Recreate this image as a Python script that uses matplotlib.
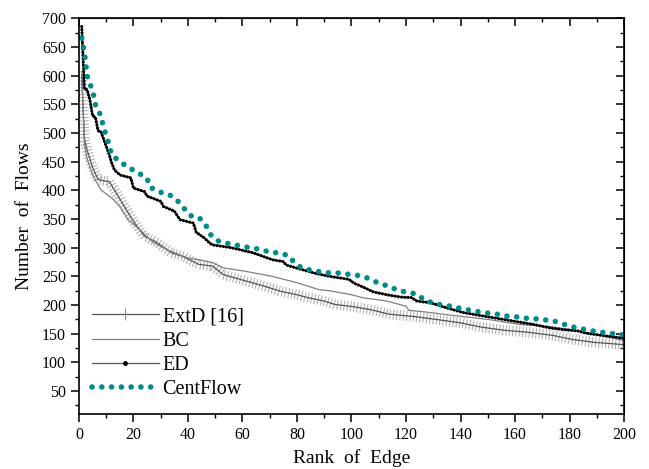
import matplotlib
matplotlib.use("Agg")
import matplotlib.pyplot as plt
import matplotlib.patheffects as pe
from matplotlib.lines import Line2D
from matplotlib.ticker import MultipleLocator

plt.rcParams['font.family'] = ['Liberation Serif', 'DejaVu Serif']

# ExtD [16]
extd_rank = [1, 2, 3, 5, 7, 10, 11, 13, 17, 20, 24, 28, 34, 38, 44, 49, 53, 59, 68, 74,
             80, 84, 90, 94, 101, 107, 114, 123, 131, 140, 147, 156, 164, 174, 181, 189, 200]
extd_flows = [600, 490, 470, 440, 419, 416, 416, 401, 369, 346, 320, 311, 291, 285, 271, 268, 253, 245, 233, 224,
              218, 213, 207, 201, 197, 192, 184, 180, 175, 169, 162, 156, 153, 147, 140, 135, 131]

# BC
bc_rank = [1, 2, 3, 5, 8, 12, 15, 18, 22, 27, 33, 40, 44, 49, 53, 61, 71, 80, 88, 92,
           100, 104, 113, 120, 121, 129, 137, 150, 162, 172, 181, 190, 200]
bc_flows = [608, 478, 455, 427, 401, 387, 372, 349, 333, 310, 295, 282, 279, 274, 265, 259, 250, 239, 227, 225,
            218, 213, 207, 198, 191, 187, 182, 175, 166, 163, 157, 149, 138]

# ED
ed_rank = [1, 2, 3, 4, 5, 6, 7, 8, 10, 11, 12, 13, 15, 19, 20, 24, 25, 30, 31, 35, 37, 42, 43, 46, 48, 49,
           56, 64, 71, 75, 76, 81, 87, 92, 99, 101, 104, 108, 113, 118, 122, 124, 129, 135, 141, 147,
           152, 157, 162, 167, 173, 178, 183, 186, 192, 200]
ed_flows = [686, 577, 576, 558, 530, 528, 504, 503, 477, 464, 448, 436, 427, 422, 404, 398, 390, 381, 372, 364, 349, 343, 327, 317, 308, 305,
            300, 291, 279, 276, 270, 263, 255, 250, 245, 238, 232, 223, 218, 214, 213, 207, 204, 195, 187, 182,
            178, 174, 170, 166, 160, 157, 155, 151, 147, 142]

# CentFlow
cf_rank = [1, 2, 3, 4, 5, 6, 7, 8, 9, 10, 11, 12, 13, 16, 19, 22, 25, 26, 29, 33, 36, 38.5, 41, 44, 46.5, 48,
           51, 54, 57, 60.5, 64, 67, 70, 73.5, 77, 79, 82, 85, 88.5, 92, 95, 98.5, 102, 105, 108, 111, 114,
           117.5, 121, 124, 127, 130.5, 134, 137, 140, 143.5, 147, 150, 153.5, 156.5, 160, 163, 166.5, 170,
           173, 176.5, 180, 183, 186, 189.5, 193, 196, 200]
cf_flows = [666, 640, 600, 586, 575, 550, 538, 532, 510, 496, 480, 462, 458, 447, 438, 430, 421, 406, 398, 393, 383, 369, 356, 353, 340, 324,
            312, 308, 305, 302, 299, 297, 292, 291, 286, 274, 264, 261, 258, 256, 256, 254, 252, 249, 242, 237, 232,
            225, 222, 219, 208, 203, 199, 198, 194, 191, 188, 186, 184, 181, 180, 177, 177, 174,
            174, 169, 163, 160, 157, 154, 152, 150, 148]

TEAL = '#008b8b'
cf_style = (0, (0.01, 1.75))

fig = plt.figure(figsize=(6.49, 4.69), dpi=100)
ax = fig.add_axes([0.1217, 0.1173, 0.8398, 0.8433])

# ExtD: dark line with light vertical ticks along it
ticks = dict(spacing=2.4, length=1.4, foreground='#a8a8a8', linewidth=0.7)
ax.plot(extd_rank, extd_flows, color='#555555', lw=0.9,
        path_effects=[pe.TickedStroke(angle=90, **ticks), pe.TickedStroke(angle=-90, **ticks), pe.Normal()])
ax.plot(bc_rank, bc_flows, color='#808080', lw=0.9)
# ED: black line with tight beads
ax.plot(ed_rank, ed_flows, color='black', lw=1.0)
ax.plot(ed_rank, ed_flows, color='black', lw=2.3, linestyle=(0, (0.01, 1.0)), dash_capstyle='round')
ax.plot(cf_rank, cf_flows, color=TEAL, lw=4.0, linestyle=cf_style, dash_capstyle='round')

ax.set_xlim(0, 200)
ax.set_ylim(10, 700)
ax.xaxis.set_major_locator(MultipleLocator(20))
ax.xaxis.set_minor_locator(MultipleLocator(10))
ax.yaxis.set_major_locator(MultipleLocator(50))
ax.yaxis.set_minor_locator(MultipleLocator(25))
ax.set_yticks(range(50, 701, 50))
ax.tick_params(which='major', direction='out', length=6, width=1.1, labelsize=11.5)
ax.tick_params(which='minor', direction='out', length=3, width=1.0)
for s in ax.spines.values():
    s.set_linewidth(1.2)

# inward ticks on the top and right sides
top = ax.secondary_xaxis('top')
top.xaxis.set_major_locator(MultipleLocator(20))
top.xaxis.set_minor_locator(MultipleLocator(10))
top.tick_params(which='major', direction='in', length=6, width=1.1, labeltop=False)
top.tick_params(which='minor', direction='in', length=3, width=1.0)
right = ax.secondary_yaxis('right')
right.yaxis.set_major_locator(MultipleLocator(50))
right.yaxis.set_minor_locator(MultipleLocator(25))
right.tick_params(which='major', direction='in', length=6, width=1.1, labelright=False)
right.tick_params(which='minor', direction='in', length=3, width=1.0)

ax.set_xlabel('Rank  of  Edge', fontsize=14, labelpad=4)
ax.set_ylabel('Number  of  Flows', fontsize=14, labelpad=6)

handles = [
    Line2D([], [], color='#555555', lw=0.9, marker='|', ms=8, mec='#888888', mew=0.8),
    Line2D([], [], color='#808080', lw=0.9),
    Line2D([], [], color='#555555', lw=0.9, marker='o', ms=2.5, mfc='black', mec='black'),
    Line2D([], [], color=TEAL, lw=4.0, linestyle=cf_style, dash_capstyle='round'),
]
labels = ['ExtD [16]', 'BC', 'ED', 'CentFlow']
ax.legend(handles, labels, loc='lower left', bbox_to_anchor=(0.0, 0.005), frameon=False, fontsize=14.5,
          handlelength=3.3, handletextpad=0.2, labelspacing=0.25, numpoints=1, borderaxespad=0.25)

fig.savefig('out.png', dpi=100)
